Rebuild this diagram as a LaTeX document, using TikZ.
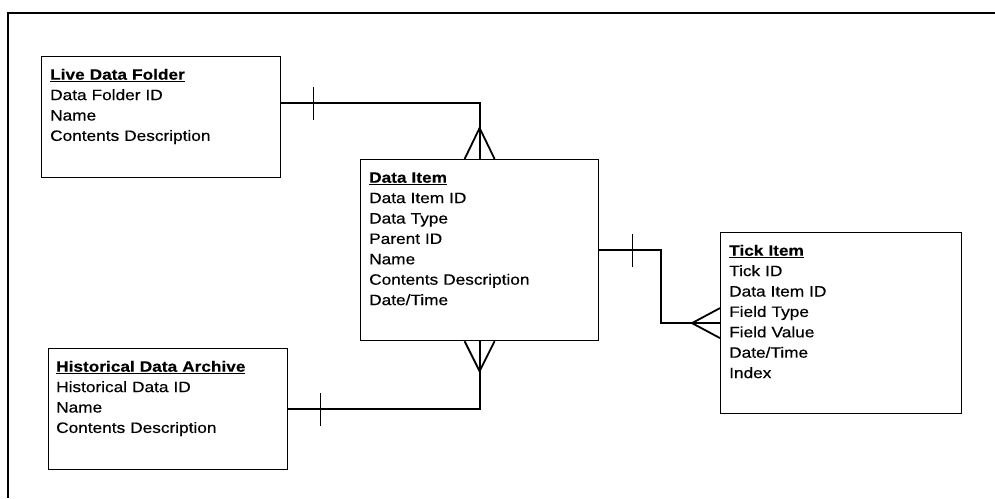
\documentclass[tikz,border=0pt]{standalone}
\usepackage{fontspec}
\setmainfont{Liberation Sans}[FakeStretch=1.15, UprightFeatures={FakeBold=0.4}, BoldFeatures={FakeBold=0.4}]
\usetikzlibrary{calc}
\newcommand\enttitle[1]{\setbox0\hbox{\bfseries #1}\rlap{\usebox0}\rule[-2.6pt]{\wd0}{1.4pt}}
\tikzset{
  entity/.style={draw, line width=1.2pt, rectangle, inner sep=0pt, anchor=north west},
  fields/.style={anchor=north west, inner sep=0pt, align=left, text width=225pt,
                 font=\fontsize{15}{20.4}\selectfont},
  rel/.style={line width=1.8pt},
  bar/.style={line width=1.3pt},
  frame/.style={line width=1.5pt}
}
\begin{document}
\begin{tikzpicture}[x=1pt,y=-1pt]
\useasboundingbox (0,0) rectangle (995,498);
\coordinate (fa) at (8,498);
\coordinate (fb) at (8,13);
\coordinate (fc) at (995,13);
\draw[frame] (fa) -- (fb) -- (fc);

% entities
\node[entity, minimum width=239pt, minimum height=121pt] (ldf) at (41,56) {};
\node[entity, minimum width=238pt, minimum height=181pt] (di) at (360,159) {};
\node[entity, minimum width=239pt, minimum height=121pt] (hda) at (48,348) {};
\node[entity, minimum width=241pt, minimum height=181pt] (ti) at (720,232) {};

\node[fields] (ldft) at ($(ldf.north west)+(9,11.5)$)
  {\rule{0pt}{12pt}\enttitle{Live Data Folder}\\Data Folder ID\\Name\\Contents Description};
\node[fields] (dit) at ($(di.north west)+(9,11.5)$)
  {\rule{0pt}{12pt}\enttitle{Data Item}\\Data Item ID\\Data Type\\Parent ID\\Name\\Contents Description\\Date/Time};
\node[fields] (hdat) at ($(hda.north west)+(8,11.5)$)
  {\rule{0pt}{12pt}\enttitle{Historical Data Archive}\\Historical Data ID\\Name\\Contents Description};
\node[fields] (tit) at ($(ti.north west)+(9,11.5)$)
  {\rule{0pt}{12pt}\enttitle{Tick Item}\\Tick ID\\Data Item ID\\Field Type\\Field Value\\Date/Time\\Index};

% Live Data Folder -- Data Item
\draw[rel] ($(ldf.north east)+(0,47)$) -| (di.north);
\draw[bar] ($(ldf.north east)+(32,31)$) -- ++(0,33);
\draw[rel] ($(di.north)+(-15,0)$) -- ($(di.north)+(0,-31)$) -- ($(di.north)+(15,0)$);

% Historical Data Archive -- Data Item
\draw[rel] (hda.east) -| (di.south);
\draw[bar] ($(hda.east)+(32,-16)$) -- ++(0,33);
\draw[rel] ($(di.south)+(-15,0)$) -- ($(di.south)+(0,30)$) -- ($(di.south)+(15,0)$);

% Data Item -- Tick Item
\draw[rel] (di.east) -- ($(di.east)+(62,0)$) |- (ti.west);
\draw[bar] ($(di.east)+(33,-16)$) -- ++(0,33);
\draw[rel] ($(ti.west)+(0,-15)$) -- ($(ti.west)+(-28,0)$) -- ($(ti.west)+(0,15)$);
\end{tikzpicture}
\end{document}
